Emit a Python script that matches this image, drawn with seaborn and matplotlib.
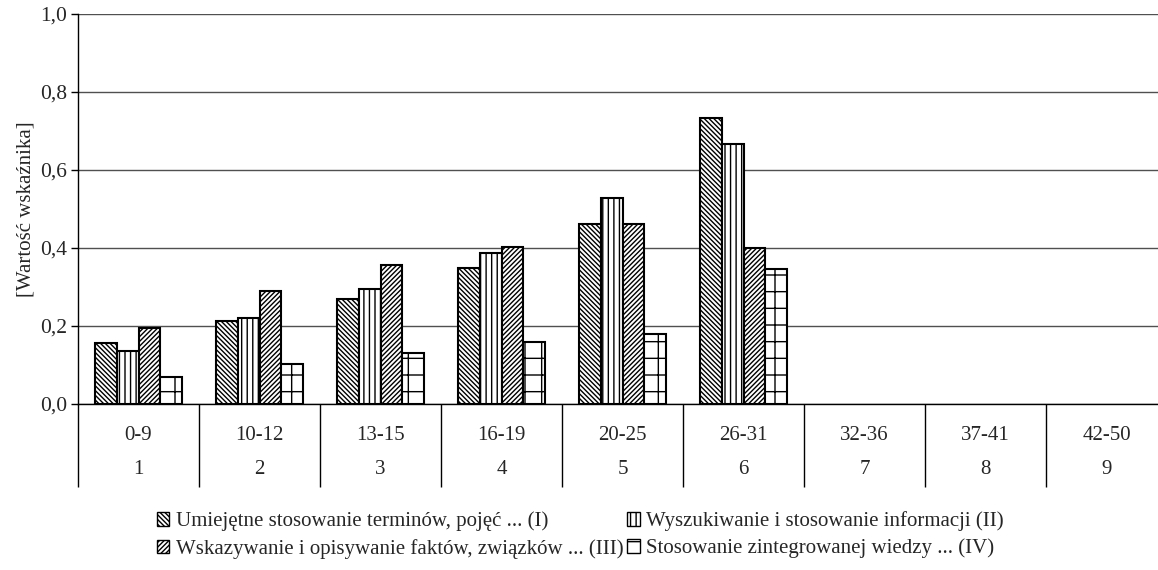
import numpy as np
import pandas as pd
import matplotlib
matplotlib.use('Agg')
import matplotlib.pyplot as plt
from matplotlib.patches import Patch
import seaborn as sns

ranges = ['0-9', '10-12', '13-15', '16-19', '20-25', '26-31', '32-36', '37-41', '42-50']
groups = ['1', '2', '3', '4', '5', '6', '7', '8', '9']
series = ['Umiejętne stosowanie terminów, pojęć ... (I)',
          'Wyszukiwanie i stosowanie informacji (II)',
          'Wskazywanie i opisywanie faktów, związków ... (III)',
          'Stosowanie zintegrowanej wiedzy ... (IV)']
val_I = [0.156, 0.214, 0.268, 0.349, 0.462, 0.733, 0, 0, 0]
val_II = [0.136, 0.221, 0.295, 0.388, 0.527, 0.667, 0, 0, 0]
val_III = [0.194, 0.291, 0.356, 0.403, 0.462, 0.399, 0, 0, 0]
val_IV = [0.070, 0.102, 0.132, 0.159, 0.179, 0.345, 0, 0, 0]
hatches = ['\\' * 7, '|||', '/' * 7, '+']

rows = []
for name, vals in zip(series, [val_I, val_II, val_III, val_IV]):
    for r, v in zip(ranges, vals):
        rows.append({'range': r, 'series': name, 'value': v})
df = pd.DataFrame(rows)

sns.set_theme(style="white")
plt.rcParams['font.family'] = ['Liberation Serif', 'DejaVu Serif']
plt.rcParams['hatch.linewidth'] = 1.0
plt.rcParams['hatch.color'] = 'black'
fs = 15

fig = plt.figure(figsize=(11.58, 5.70), dpi=100)
ax = fig.add_axes([78 / 1158, 166 / 570, 1089 / 1158, 390 / 570])

sns.barplot(data=df, x='range', y='value', hue='series', order=ranges, hue_order=series,
            palette=['white'] * 4, width=0.727, edgecolor='black', linewidth=1.5,
            legend=False, ax=ax, zorder=3)
for cont, h in zip(ax.containers, hatches):
    for bar in cont:
        bar.set_hatch(h)
        if bar.get_height() == 0:
            bar.set_visible(False)

ax.set_ylim(0, 1.0)
ax.set_xlim(-0.5, len(ranges) - 0.5)
yt = np.arange(0, 1.01, 0.2)
ax.set_yticks(yt)
ax.set_yticklabels([f'{t:.1f}'.replace('.', ',') for t in yt], fontsize=fs + 0.5)
ax.yaxis.grid(True, color='#505050', linewidth=1.0, zorder=0)
ax.set_axisbelow(True)
for s in ['top', 'right']:
    ax.spines[s].set_visible(False)
for s in ['left', 'bottom']:
    ax.spines[s].set_color('black')
    ax.spines[s].set_linewidth(1.0)
ax.tick_params(axis='y', which='major', direction='out', length=5, width=1, color='black', pad=3, left=True)

ax.set_xticks(range(len(ranges)))
ax.set_xticklabels([])
ax.tick_params(axis='x', which='major', length=0)
ax.set_xticks(np.arange(-0.5, len(ranges), 1.0), minor=True)
ax.tick_params(axis='x', which='minor', direction='out', length=60, width=1, color='black', bottom=True)
ax.set_xlabel('')
ax.set_ylabel('[Wartość wskaźnika]', fontsize=fs, labelpad=3)

trans = ax.get_xaxis_transform()
for i, (r, g) in enumerate(zip(ranges, groups)):
    ax.text(i, -0.082, r, transform=trans, ha='center', va='center', fontsize=fs)
    ax.text(i, -0.169, g, transform=trans, ha='center', va='center', fontsize=fs)

handles = [Patch(facecolor='white', edgecolor='black', hatch=h, linewidth=1.0) for h in hatches]
order = [0, 2, 1, 3]
fig.legend([handles[i] for i in order], [series[i] for i in order], ncol=2,
           loc='center left', bbox_to_anchor=(138 / 1158, 1 - 535 / 570), frameon=False,
           fontsize=fs, handlelength=0.6, handleheight=0.6, handletextpad=0.3,
           columnspacing=0.2, labelspacing=0.35)

fig.savefig('out.png', dpi=100)
